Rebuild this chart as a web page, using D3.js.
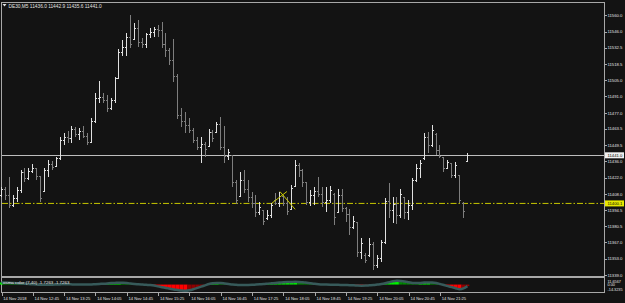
<!DOCTYPE html>
<html>
<head>
<meta charset="utf-8">
<script src="https://cdn.jsdelivr.net/npm/d3@7"></script>
<style>
  body { margin: 0; background: #131313; }
  text { font-family: "Liberation Sans", Arial, sans-serif; }
</style>
</head>
<body>
<div id="chart"></div>
<script>
// DE30 M5 bars (one value per bar, 12:05 -> 22:00)
var barOpen = [11407.0,11412.0,11406.5,11398.0,11404.0,11411.0,11426.0,11421.0,11427.5,11429.9,
  11423.0,11410.5,11428.0,11433.0,11431.5,11438.0,11454.0,11456.5,11455.0,11463.0,
  11459.0,11461.5,11457.0,11452.0,11470.0,11489.0,11490.0,11488.0,11481.0,11487.5,
  11506.5,11528.0,11533.0,11541.0,11539.5,11549.0,11537.0,11535.0,11544.0,11545.5,
  11548.0,11547.0,11535.0,11530.0,11522.0,11508.0,11475.0,11470.0,11466.0,11462.0,
  11454.0,11448.0,11450.5,11448.5,11460.0,11460.0,11467.0,11448.0,11440.0,11441.0,
  11418.0,11406.0,11420.0,11412.0,11405.0,11400.0,11392.0,11394.0,11387.0,11390.0,
  11403.0,11400.0,11406.0,11400.0,11395.0,11414.5,11432.0,11428.0,11418.0,11401.0,
  11407.0,11410.0,11408.0,11401.0,11403.0,11408.0,11392.0,11407.0,11396.0,11391.0,
  11380.0,11384.0,11358.0,11356.0,11356.0,11365.0,11347.0,11353.0,11367.0,11402.0,
  11394.0,11399.0,11390.0,11405.0,11392.0,11398.0,11420.0,11430.0,11438.0,11456.0,
  11449.0,11459.0,11445.0,11439.0,11430.0,11434.0,11424.0,11424.0,11400.0,11436.0];
var barHigh = [11414.1,11414.3,11422.8,11407.3,11414.3,11428.5,11429.9,11429.9,11433.6,11429.9,
  11423.4,11429.9,11437.0,11436.4,11439.8,11456.8,11459.7,11461.9,11465.9,11465.3,
  11463.9,11465.9,11459.7,11472.4,11493.7,11504.4,11493.7,11492.3,11489.4,11507.8,
  11531.1,11539.0,11544.7,11560.3,11553.2,11556.0,11540.4,11545.2,11548.9,11550.3,
  11551.8,11554.6,11545.2,11532.0,11539.6,11510.1,11480.9,11478.1,11473.0,11463.9,
  11456.8,11456.3,11452.6,11463.1,11462.5,11469.6,11473.3,11465.9,11446.1,11441.3,
  11420.0,11427.1,11428.5,11420.0,11410.1,11407.3,11401.6,11394.5,11394.5,11400.7,
  11409.2,11410.1,11407.3,11405.8,11415.8,11437.0,11434.2,11429.1,11418.6,11411.5,
  11414.3,11422.3,11414.3,11414.3,11414.9,11408.7,11412.4,11412.4,11397.3,11395.4,
  11389.4,11384.3,11370.7,11357.9,11370.7,11367.6,11356.3,11369.0,11405.0,11417.5,
  11405.6,11405.6,11412.4,11405.6,11403.0,11422.0,11433.3,11437.0,11459.7,11461.1,
  11466.8,11459.7,11449.8,11439.8,11437.0,11434.2,11435.0,11424.3,11401.0,11442.9];
var barLow = [11405.5,11403.0,11395.9,11397.3,11401.6,11408.7,11418.6,11420.0,11425.7,11420.0,
  11401.6,11410.1,11422.8,11428.5,11431.3,11437.0,11449.8,11451.2,11451.2,11456.8,
  11454.0,11455.4,11449.8,11451.2,11468.2,11485.7,11485.2,11478.1,11479.5,11485.7,
  11506.4,11525.4,11525.4,11532.0,11539.0,11532.8,11532.0,11532.0,11540.4,11541.8,
  11541.8,11532.0,11524.8,11517.8,11503.6,11471.6,11465.3,11459.7,11459.7,11451.2,
  11445.5,11434.7,11439.8,11448.3,11452.6,11459.7,11445.5,11434.2,11437.0,11414.3,
  11399.6,11405.8,11408.7,11401.6,11395.9,11388.8,11390.3,11381.8,11386.0,11387.4,
  11398.8,11397.3,11397.9,11390.3,11394.5,11414.3,11422.8,11414.3,11398.8,11397.9,
  11398.8,11405.8,11397.3,11393.1,11400.2,11381.8,11391.9,11392.8,11384.3,11373.3,
  11378.4,11354.8,11352.9,11349.5,11354.6,11343.5,11345.2,11350.3,11365.3,11387.7,
  11383.5,11382.6,11387.7,11386.9,11386.0,11394.5,11418.6,11421.4,11437.0,11442.7,
  11448.3,11441.3,11438.4,11427.1,11429.9,11421.4,11421.4,11400.2,11387.4,11435.6];
var barClose = [11412.0,11406.5,11398.0,11404.0,11411.0,11426.0,11421.0,11427.5,11430.0,11423.0,
  11404.0,11428.0,11433.0,11430.5,11438.0,11454.0,11456.5,11455.0,11463.0,11459.0,
  11461.5,11457.0,11452.0,11470.0,11489.0,11490.0,11488.0,11481.0,11487.5,11506.5,
  11528.0,11533.0,11541.0,11535.0,11549.0,11537.0,11535.0,11544.0,11545.5,11548.0,
  11547.0,11535.0,11530.0,11522.0,11508.0,11475.0,11470.0,11466.0,11462.0,11454.0,
  11448.0,11450.5,11446.0,11460.0,11455.0,11467.0,11448.0,11440.0,11443.0,11418.0,
  11403.0,11420.0,11412.0,11405.0,11400.0,11392.0,11397.0,11385.0,11390.0,11398.0,
  11400.0,11406.0,11400.0,11393.0,11413.0,11432.0,11428.0,11418.0,11401.0,11407.0,
  11410.0,11408.0,11401.0,11403.0,11411.0,11388.0,11407.0,11396.0,11391.0,11380.0,
  11385.0,11358.0,11366.0,11352.0,11365.0,11347.0,11353.0,11367.0,11402.0,11394.0,
  11399.0,11390.0,11408.0,11392.0,11398.0,11420.0,11430.0,11434.0,11456.0,11449.0,
  11462.0,11445.0,11440.0,11430.0,11435.0,11424.0,11432.0,11403.0,11393.0,11441.0];

// OsMA (7,40) per bar
var osmaValues = [4, 3.8, 3.5, 3, 2.5, 2, 1.5, 1,
  0.5, 0, -0.5, -0.5, -0.5, -0.3, 0, 0.3, 0.5, 0.5, 0.3, 0, 0, 0.2, 0, 0.3, 0.8, 1.2, 1.5,
  2, 2.8, 3.2, 3.5, 3.3, 2.8, 2, 1.2,
  0.5, 0, -0.5, -1,
  -2, -3.5, -5, -6.5, -8, -9.5, -10.5, -11.5, -12, -11, -9,
  -6.5, -4, -1.5,
  1, 2.5, 3.2, 3, 2,
  1, 0, -0.5, -1, -1, -0.8, -0.5,
  0, 0.5, 1, 1.8,
  2.5, 3.2, 4, 4.5, 4.8, 5, 5.2, 5, 4.5, 3.5,
  2.5, 1.5, 0.8, 0.3,
  0, -0.3, -0.5, -0.5, -0.8, -1, -1.2, -1.5,
  -2, -2.2, -2, -1.5,
  -1, 0, 1,
  2.5, 4.5, 6.5, 7.5, 7, 6, 4.5, 3,
  2.8, 3.2, 3.8, 4.2, 4, 3,
  1,
  -1, -3, -5, -7, -9, -7.5, -3];
var osmaMax = 11.6567, osmaMin = -14.3235;

// axis labels
var priceTicks = [11560.0, 11546.0, 11532.5, 11518.5, 11505.0, 11491.0, 11477.0, 11463.5, 11449.5,
  11436.0, 11422.0, 11408.0, 11394.5, 11380.5, 11367.0, 11353.0, 11339.0];
var timeTickBars = [0, 8, 16, 24, 32, 40, 48, 56, 64, 72, 80, 88, 96, 104, 112];
var timeLabels = ["14 Nov 2018", "14 Nov 12:45", "14 Nov 13:25", "14 Nov 14:05", "14 Nov 14:45",
  "14 Nov 15:25", "14 Nov 16:05", "14 Nov 16:45", "14 Nov 17:25", "14 Nov 18:05",
  "14 Nov 18:45", "14 Nov 19:25", "14 Nov 20:05", "14 Nov 20:45", "14 Nov 21:25"];

var bidPrice = 11441.0;
var levelPrice = 11400.1;
// the two small drawn lines (bar index, price)
var drawnLines = [[69.1, 11400.4, 72.9, 11410.2], [71.1, 11410.2, 75.0, 11395.1]];

var width = 625, height = 303;
var plotRight = 604.5;

var svg = d3.select("#chart")
  .append("svg")
    .attr("width", width)
    .attr("height", height);

svg.append("rect")
  .attr("width", width).attr("height", height)
  .attr("fill", "#131313");

// scales
var x = d3.scaleLinear().domain([0, 119]).range([1.5, 467.4]);
var y = d3.scaleLinear().domain([11339, 11560]).range([275.3, 15.3]);
var yo = d3.scaleLinear().domain([osmaMin, osmaMax]).range([292, 278.5]);

var frameColor = "#a8a8a8";
var labelColor = "#e2e2e2";

// main window frame
svg.append("rect")
  .attr("x", 1.5).attr("y", 2.5)
  .attr("width", plotRight - 1.5).attr("height", 274)
  .attr("fill", "none").attr("stroke", frameColor);

// indicator window frame
svg.append("rect")
  .attr("x", 1.5).attr("y", 277.5)
  .attr("width", plotRight - 1.5).attr("height", 15)
  .attr("fill", "none").attr("stroke", frameColor);

var main = svg.append("g");

// level line (yellow dash dot)
main.append("line")
  .attr("x1", 2).attr("x2", plotRight)
  .attr("y1", y(levelPrice)).attr("y2", y(levelPrice))
  .attr("stroke", "#c8c800").attr("stroke-width", 1)
  .attr("stroke-dasharray", "6,2,1.5,2");

// bid line
main.append("line")
  .attr("x1", 2).attr("x2", plotRight)
  .attr("y1", Math.round(y(bidPrice)) + 0.5).attr("y2", Math.round(y(bidPrice)) + 0.5)
  .attr("stroke", "#bdbdbd").attr("stroke-width", 1);

// OHLC bars
var bars = main.selectAll(".bar")
  .data(barClose)
  .enter()
  .append("g")
    .attr("class", "bar")
    .attr("stroke", (d, i) => barClose[i] >= barOpen[i] ? "#e0e0e0" : "#7e7e7e")
    .attr("shape-rendering", "crispEdges");

bars.append("line")
  .attr("x1", (d, i) => x(i)).attr("x2", (d, i) => x(i))
  .attr("y1", (d, i) => y(barHigh[i])).attr("y2", (d, i) => y(barLow[i]));
bars.append("line")
  .attr("x1", (d, i) => x(i) - 1.5).attr("x2", (d, i) => x(i))
  .attr("y1", (d, i) => y(barOpen[i])).attr("y2", (d, i) => y(barOpen[i]));
bars.append("line")
  .attr("x1", (d, i) => x(i)).attr("x2", (d, i) => x(i) + 1.5)
  .attr("y1", (d, i) => y(barClose[i])).attr("y2", (d, i) => y(barClose[i]));

// drawn lines
main.selectAll(".drawn")
  .data(drawnLines)
  .enter()
  .append("line")
    .attr("x1", d => x(d[0])).attr("y1", d => y(d[1]))
    .attr("x2", d => x(d[2])).attr("y2", d => y(d[3]))
    .attr("stroke", "#c8c800").attr("stroke-width", 1);

// header
svg.append("path")
  .attr("d", "M2.5,4 L6.5,4 L4.5,6.5 Z")
  .attr("fill", labelColor);
svg.append("text")
  .attr("x", 8.5).attr("y", 7.6)
  .attr("font-size", "4.8px")
  .attr("fill", labelColor)
  .text("DE30,M5  11436.0 11442.9 11435.6 11441.0");

// price axis
svg.append("line")
  .attr("x1", plotRight).attr("x2", plotRight)
  .attr("y1", 2).attr("y2", 293)
  .attr("stroke", frameColor);

svg.selectAll(".ptick")
  .data(priceTicks)
  .enter()
  .append("line")
    .attr("x1", plotRight).attr("x2", plotRight + 2.5)
    .attr("y1", d => Math.round(y(d)) + 0.5).attr("y2", d => Math.round(y(d)) + 0.5)
    .attr("stroke", frameColor);

svg.selectAll(".plabel")
  .data(priceTicks)
  .enter()
  .append("text")
    .attr("x", 607.5)
    .attr("y", d => y(d) + 1.6)
    .attr("font-size", "4.2px")
    .attr("fill", labelColor)
    .text(d => d.toFixed(1));

// highlighted price labels
var boxes = [[bidPrice, "#f0f0f0"], [levelPrice, "#e8e800"]];
boxes.forEach(function(b) {
  svg.append("rect")
    .attr("x", 605).attr("y", y(b[0]) - 3)
    .attr("width", 19).attr("height", 6)
    .attr("fill", b[1]);
  svg.append("text")
    .attr("x", 607.5).attr("y", y(b[0]) + 1.6)
    .attr("font-size", "4.2px")
    .attr("fill", "#000")
    .text(b[0].toFixed(1));
});

// OsMA histogram
var osma = svg.append("g");
osma.selectAll("rect")
  .data(osmaValues)
  .enter()
  .append("rect")
    .attr("x", (d, i) => x(i) - 1.95)
    .attr("width", 3.9)
    .attr("y", d => Math.min(yo(d), yo(0)))
    .attr("height", d => Math.abs(yo(d) - yo(0)))
    .attr("fill", function(d, i) {
      var prev = i > 0 ? osmaValues[i - 1] : d;
      if (d >= 0) return d >= prev ? "#00f000" : "#008a00";
      return d <= prev ? "#ff0000" : "#900000";
    });

osma.append("path")
  .datum(osmaValues)
  .attr("d", d3.line().x((d, i) => x(i)).y(d => yo(d)).curve(d3.curveMonotoneX))
  .attr("fill", "none")
  .attr("stroke", "#375a5a")
  .attr("stroke-width", 2.5);

svg.append("text")
  .attr("x", 3).attr("y", 284)
  .attr("font-size", "4.4px")
  .attr("fill", labelColor)
  .text("osma color (7,40) -1.7263 -1.7263");

// indicator scale labels
var osmaLabels = [[osmaMax, "11.6567", 283], [0, "0.00", 286], [osmaMin, "-14.3235", 290.5]];
svg.selectAll(".olabel")
  .data(osmaLabels)
  .enter()
  .append("text")
    .attr("x", 607.5)
    .attr("y", d => d[2])
    .attr("font-size", "3.8px")
    .attr("fill", labelColor)
    .text(d => d[1]);

// time axis
svg.selectAll(".ttick")
  .data(timeTickBars)
  .enter()
  .append("line")
    .attr("x1", d => Math.round(x(d)) + 0.5).attr("x2", d => Math.round(x(d)) + 0.5)
    .attr("y1", 293).attr("y2", 296)
    .attr("stroke", frameColor);

svg.selectAll(".tlabel")
  .data(timeTickBars)
  .enter()
  .append("text")
    .attr("x", d => x(d) + 1.8)
    .attr("y", 299.5)
    .attr("font-size", "4.1px")
    .attr("fill", labelColor)
    .text((d, i) => timeLabels[i]);
</script>
</body>
</html>
